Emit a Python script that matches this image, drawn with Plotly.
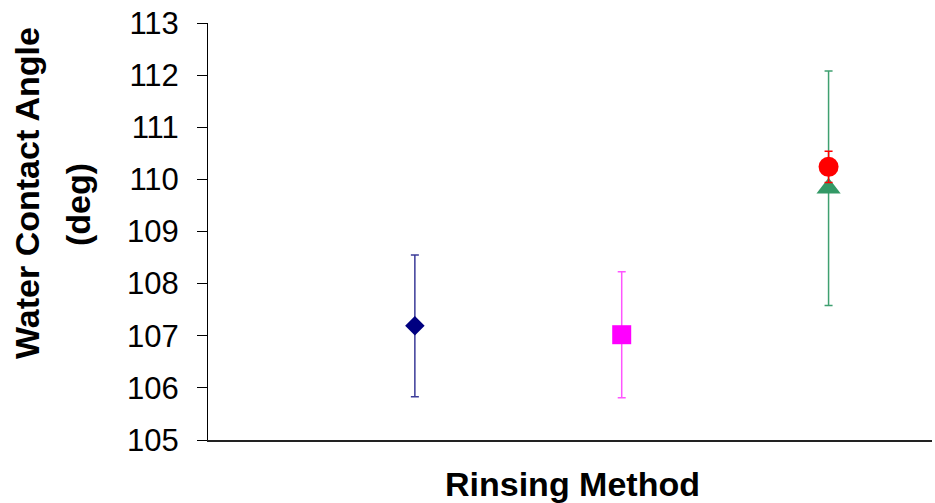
import plotly.graph_objects as go

# ---- data ----
series_names = ["Rinse 1", "Rinse 2", "Rinse 3a", "Rinse 3b"]
x_positions = [1, 2, 3, 3]
mean_angles = [107.19, 107.02, 109.83, 110.24]
std_errors = [1.36, 1.21, 2.25, 0.30]
marker_symbols = ["diamond", "square", "triangle-up", "circle"]
marker_colors = ["#000080", "#FF00FF", "#339966", "#FF0000"]
error_colors = ["#3c3c99", "#FF55FF", "#3FA070", "#FF0000"]
marker_sizes = [15, 19, 21, 20]

y_ticks = [105, 106, 107, 108, 109, 110, 111, 112, 113]
x_title = "Rinsing Method"
y_title_lines = ["Water Contact Angle", "(deg)"]

W, H = 935, 503
L, R, T, B = 208, 3, 23, 63
PW, PH = W - L - R, H - T - B

fig = go.Figure()
for name, xp, m, e, sym, col, ecol, sz in zip(series_names, x_positions, mean_angles,
                                              std_errors, marker_symbols, marker_colors,
                                              error_colors, marker_sizes):
    fig.add_trace(go.Scatter(
        x=[xp], y=[m], mode="markers", name=name,
        marker=dict(symbol=sym, color=col, size=sz, line=dict(width=0)),
        error_y=dict(type="data", array=[e], visible=True, color=ecol,
                     thickness=1.5, width=4),
        showlegend=False,
    ))

fig.update_layout(
    width=W, height=H,
    margin=dict(l=L, r=R, t=T, b=B),
    paper_bgcolor="white", plot_bgcolor="white",
    font=dict(family="Liberation Sans, Arial, sans-serif", color="black"),
    xaxis=dict(range=[0, 3.5], showgrid=False, zeroline=False,
               showticklabels=False, ticks="", showline=True,
               linecolor="#222222", linewidth=2, fixedrange=True),
    yaxis=dict(range=[105, 113], tickvals=y_ticks, ticktext=[str(t) for t in y_ticks],
               showgrid=False, zeroline=False, showline=True, linecolor="black",
               linewidth=1, ticks="outside", ticklen=10, tickcolor="black",
               tickwidth=1, tickfont=dict(size=31, color="black"),
               ticklabelstandoff=12, fixedrange=True),
)

# axis titles as annotations to control positions
fig.add_annotation(text="<b>%s</b>" % x_title, xref="paper", yref="paper",
                   x=(572 - L) / PW, y=-(484 - (T + PH)) / PH,
                   xanchor="center", yanchor="middle", showarrow=False,
                   font=dict(size=34, color="black"))
line_x = [27, 78]
line_y = [193, 205]
for txt, px, py in zip(y_title_lines, line_x, line_y):
    fig.add_annotation(text="<b>%s</b>" % txt, xref="paper", yref="paper",
                       x=(px - L) / PW, y=((T + PH) - py) / PH,
                       xanchor="center", yanchor="middle", showarrow=False,
                       textangle=-90, font=dict(size=34, color="black"))

fig.write_html("out.html")
